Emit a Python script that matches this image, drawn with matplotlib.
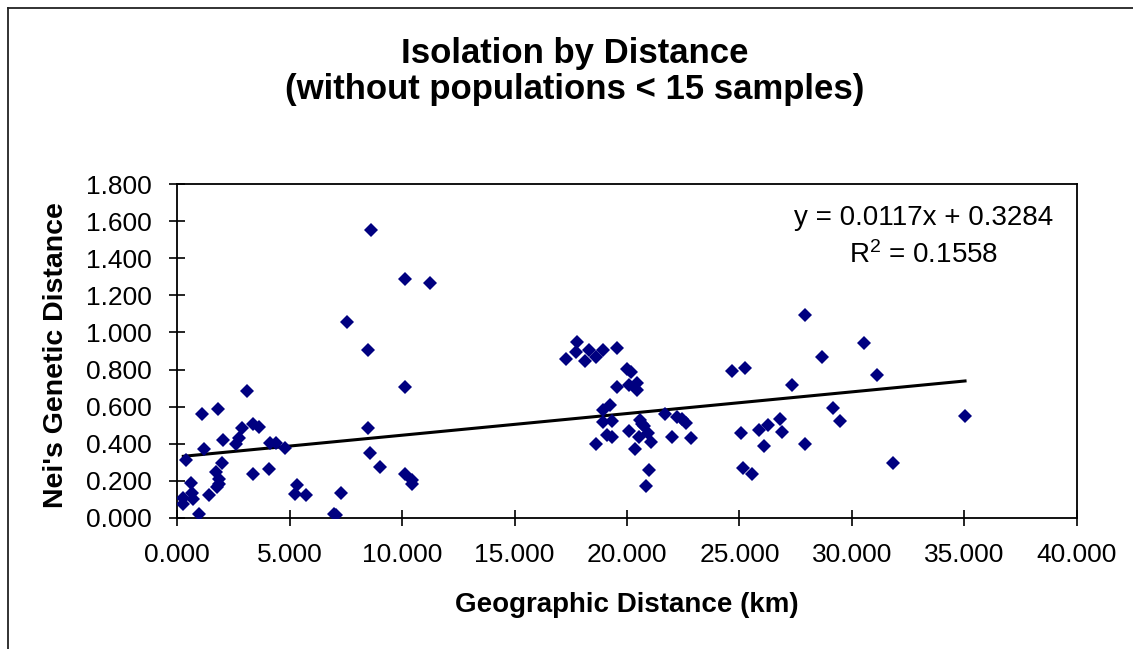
import numpy as np
import matplotlib
matplotlib.use('Agg')
import matplotlib.pyplot as plt
from matplotlib.lines import Line2D

plt.rcParams['font.family'] = ['Liberation Sans', 'DejaVu Sans']
plt.rcParams['mathtext.default'] = 'regular'

# geographic distance (km) and Nei's genetic distance
geo_km = [
    8.632, 10.145, 11.244, 7.537, 8.485, 10.145, 3.115, 1.811, 1.086, 8.485,
    3.368, 3.622, 2.892, 2.047, 2.732, 2.612, 4.138, 4.392, 4.779, 1.175,
    0.374, 8.561, 1.976, 9.006, 4.067, 3.368, 1.722, 10.145, 10.456, 10.456,
    1.869, 1.869, 0.610, 1.766, 5.326, 5.250, 5.740, 1.410, 0.667, 7.297,
    0.267, 0.712, 0.267, 0.952, 6.959, 7.075,
    17.771, 17.740, 17.295, 18.305, 18.154, 18.630, 18.928, 19.564, 20.022, 20.173,
    19.564, 20.111, 20.441, 20.441, 19.253, 18.954, 18.928, 19.328, 20.587, 20.734,
    21.669, 22.220, 22.443, 22.621, 19.106, 19.328, 20.111, 20.512, 20.912, 21.077,
    18.630, 21.997, 22.857, 20.360, 20.988, 20.823, 20.660,
    27.898, 30.554, 28.685, 24.667, 25.228, 31.119, 27.350, 29.143, 29.473, 35.034,
    26.785, 26.251, 25.851, 26.874, 25.068, 26.091, 27.898, 25.139, 25.540, 31.813,
]
nei_dist = [
    1.553, 1.287, 1.267, 1.056, 0.905, 0.705, 0.685, 0.589, 0.561, 0.485,
    0.505, 0.492, 0.487, 0.420, 0.429, 0.398, 0.402, 0.402, 0.378, 0.373,
    0.312, 0.350, 0.294, 0.276, 0.265, 0.238, 0.247, 0.238, 0.202, 0.180,
    0.207, 0.182, 0.189, 0.168, 0.175, 0.130, 0.121, 0.124, 0.135, 0.132,
    0.108, 0.099, 0.074, 0.018, 0.022, 0.016,
    0.946, 0.894, 0.858, 0.908, 0.847, 0.867, 0.903, 0.916, 0.802, 0.784,
    0.705, 0.717, 0.726, 0.690, 0.608, 0.582, 0.516, 0.523, 0.528, 0.497,
    0.559, 0.546, 0.532, 0.510, 0.447, 0.436, 0.469, 0.438, 0.459, 0.409,
    0.400, 0.438, 0.429, 0.371, 0.256, 0.173, 0.505,
    1.097, 0.943, 0.867, 0.791, 0.809, 0.773, 0.714, 0.591, 0.523, 0.551,
    0.534, 0.503, 0.476, 0.465, 0.456, 0.389, 0.400, 0.267, 0.238, 0.294,
]

# linear trendline as reported on the chart
slope = 0.0117
intercept = 0.3284
r_squared = 0.1558

x = np.array(geo_km)
y = np.array(nei_dist)

fig = plt.figure(figsize=(11.33, 6.49), dpi=100)
ax = fig.add_axes([0.1565, 0.2023, 0.7938, 0.5137])

ax.plot(x, y, linestyle='none', marker='D', markersize=7.6,
        color='#000080', markeredgewidth=0, zorder=3)

xs = np.array([x.min(), x.max()])
ax.plot(xs, slope * xs + intercept, color='black', linewidth=2.2, zorder=2)

ax.set_xlim(0, 40)
ax.set_ylim(0, 1.8)
ax.set_xticks(np.arange(0, 40.1, 5))
ax.set_yticks(np.arange(0, 1.81, 0.2))
ax.xaxis.set_major_formatter(matplotlib.ticker.FormatStrFormatter('%.3f'))
ax.yaxis.set_major_formatter(matplotlib.ticker.FormatStrFormatter('%.3f'))
ax.tick_params(direction='inout', length=11.5, width=1.2, labelsize=19,
               pad=12.5, colors='black')

for s in ax.spines.values():
    s.set_linewidth(1.3)
    s.set_color('black')

ax.set_xlabel('Geographic Distance (km)', fontsize=20, fontweight='bold')
ax.set_ylabel("Nei's Genetic Distance", fontsize=20.5, fontweight='bold')
ax.xaxis.set_label_coords(0.5, -0.223)
ax.yaxis.set_label_coords(-0.1206, 0.488)

fig.text(0.5075, 0.903, 'Isolation by Distance', ha='center', va='baseline',
         fontsize=25, fontweight='bold')
fig.text(0.5075, 0.848, '(without populations < 15 samples)', ha='center',
         va='baseline', fontsize=25, fontweight='bold')

fig.text(0.8155, 0.6533, 'y = %.4fx + %.4f' % (slope, intercept), ha='center',
         va='baseline', fontsize=20)
fig.text(0.8155, 0.5948, 'R$^{2}$ = %.4f' % r_squared, ha='center',
         va='baseline', fontsize=20)

# outer chart border (left and top visible in the crop)
fig.add_artist(Line2D([7.5 / 1133, 7.5 / 1133], [0, 1 - 7.5 / 649],
                      transform=fig.transFigure, color='#222222', linewidth=1.3))
fig.add_artist(Line2D([7.5 / 1133, 1], [1 - 7.5 / 649, 1 - 7.5 / 649],
                      transform=fig.transFigure, color='#222222', linewidth=1.3))

fig.savefig('out.png', dpi=100, facecolor='white')
